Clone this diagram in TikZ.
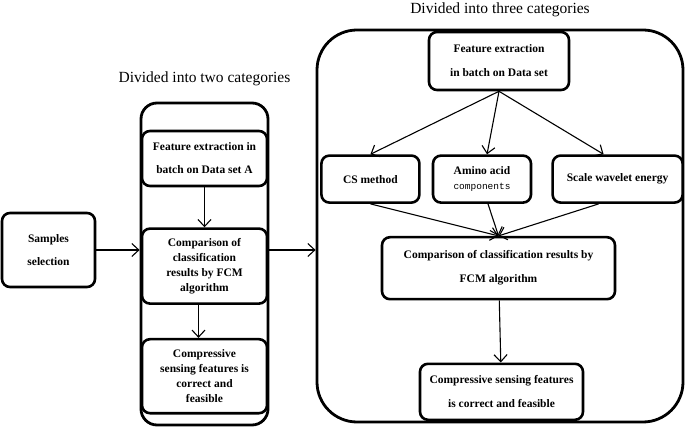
\documentclass[tikz,border=0pt]{standalone}
\usepackage{fontspec}
\setmainfont{Liberation Serif}
\setmonofont{Liberation Mono}
\usetikzlibrary{positioning,arrows.meta}

\begin{document}
\begin{tikzpicture}[x=1pt, y=-1pt,
    box/.style={draw, line width=2.6pt, rounded corners=8pt, fill=white, align=center,
        inner sep=2pt, font=\fontsize{11.5}{15}\selectfont\bfseries},
    cont/.style={draw, line width=2.8pt, inner sep=0pt},
    lbl/.style={font=\fontsize{15.5}{17}\selectfont},
    arr/.style={line width=1.1pt, -{Straight Barb[length=7pt,width=13pt]}},
    ]
    \useasboundingbox (0,0) rectangle (685,427);
    \node [cont, rounded corners=16pt, minimum width=127pt, minimum height=322pt] (leftbox) at (204.5,264) {};
    \node [lbl, above=12pt of leftbox] (two) {Divided into two categories};
    \node [cont, rounded corners=40pt, minimum width=366pt, minimum height=392pt] (rightbox) at (500,226) {};
    \node [lbl, above=8pt of rightbox] (three) {Divided into three categories};

    \node [box, minimum width=93pt, minimum height=74pt] (samples) at (48.5,250) {Samples\\[8pt]selection};
    \node [box, minimum width=125pt, minimum height=55pt] (feata) at (204.5,158.5) {Feature extraction in\\[8pt]batch on Data set A};
    \node [box, below=40pt of feata, minimum width=125pt, minimum height=75pt] (compa) {Comparison of\\classification\\results by FCM\\algorithm};
    \node [box, below=33pt of compa, minimum width=125pt, minimum height=74pt] (csa) {Compressive\\sensing features is\\correct and\\feasible};

    \node [box, minimum width=140pt, minimum height=58pt] (featb) at (499,61) {Feature extraction\\[9pt]in batch on Data set};
    \node [box, below=63pt of featb, xshift=-17pt, minimum width=98pt, minimum height=47pt] (amino) {Amino acid\\{\mdseries\ttfamily\fontsize{9.5}{11}\selectfont components}};
    \node [box, left=11pt of amino, minimum width=98pt, minimum height=47pt] (cs) {CS method};
    \node [box, right=19pt of amino, minimum width=130pt, minimum height=47pt] (scale) {Scale wavelet energy};
    \node [box, below=32pt of amino, xshift=16.5pt, minimum width=233pt, minimum height=62pt] (compb) {Comparison of classification results by\\[9pt]FCM algorithm};
    \node [box, below=62pt of compb, xshift=3pt, minimum width=163pt, minimum height=56pt] (csb) {Compressive sensing features\\[9pt]is correct and feasible};

    \draw [arr] (samples.east) -- (samples -| leftbox.west);
    \draw [arr] (feata) -- (compa);
    \draw [arr] ([xshift=-6pt]compa.south) -- ([xshift=-6pt]csa.north);
    \draw [arr] (samples -| leftbox.east) -- (samples -| rightbox.west);

    \draw [arr] (featb.south) -- (cs.north);
    \draw [arr] (featb.south) -- ([xshift=5pt]amino.north);
    \draw [arr] (featb.south) -- ([xshift=-14pt]scale.north);
    \draw [arr] (cs.south) -- (compb.north);
    \draw [arr] ([xshift=6pt]amino.south) -- (compb.north);
    \draw [arr] ([xshift=-19pt]scale.south) -- (compb.north);
    \draw [arr] (compb) -- (csb);
\end{tikzpicture}
\end{document}
